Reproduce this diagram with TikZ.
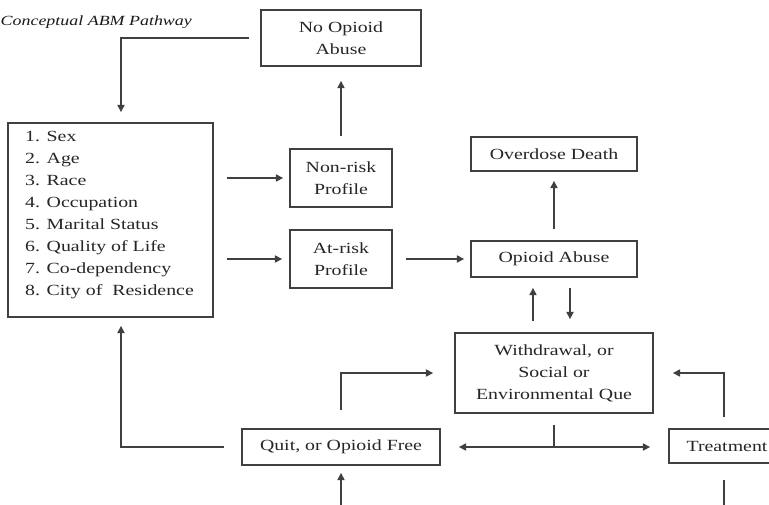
\documentclass[tikz,border=0pt]{standalone}
\usepackage{fontspec}
\setmainfont{Liberation Serif}[FakeStretch=1.28]
\usetikzlibrary{arrows.meta,calc}
\begin{document}
\begin{tikzpicture}[x=1pt,y=-1pt,
  box/.style={draw=black!75, line width=1.4pt, rectangle, inner sep=0pt, text=black!85,
    font=\fontsize{15.5}{22}\selectfont, align=center},
  conn/.style={draw=black!75, line width=1.8pt},
  arr/.style={conn, -{Triangle[length=7.5pt,width=7pt]}},
  darr/.style={conn, {Triangle[length=7.5pt,width=7pt]}-{Triangle[length=7.5pt,width=7pt]}}]
\clip (0,0) rectangle (769,504);
\fill[white] (0,0) rectangle (769,504);
% title
\node[anchor=west, inner sep=0pt, text=black!90, font=\fontsize{14}{16}\selectfont\itshape] (title) at (0.5,22) {Conceptual ABM Pathway};
% boxes
\node[box, minimum width=160pt, minimum height=56pt] (noabuse) at (341,38) {No Opioid\\Abuse};
\node[box, minimum width=205pt, minimum height=194pt] (list) at (110.5,220) {};
\node[anchor=north west, inner sep=0pt, align=left, text=black!85, font=\fontsize{15.5}{22}\selectfont] (items) at (25,131)
  {1. Sex\\2. Age\\3. Race\\4. Occupation\\5. Marital Status\\6. Quality of Life\\7. Co-dependency\\8. City of\ \ Residence};
\node[box, minimum width=102pt, minimum height=58pt] (nonrisk) at (341,178) {Non-risk\\Profile};
\node[box, minimum width=102pt, minimum height=58pt] (atrisk) at (341,259) {At-risk\\Profile};
\node[box, minimum width=166pt, minimum height=34pt] (overdose) at (554,154) {Overdose Death};
\node[box, minimum width=166pt, minimum height=36pt] (abuse) at (554,259) {Opioid Abuse};
\node[box, minimum width=198pt, minimum height=80pt] (withdrawal) at (554,373) {Withdrawal, or\\Social or\\Environmental Que};
\node[box, minimum width=198pt, minimum height=36pt] (quit) at (341,447) {Quit, or Opioid Free};
\node[box, minimum width=116pt, minimum height=34pt] (treatment) at (727,446) {Treatment};
% free ends
\coordinate (bq) at (341,510);
\coordinate (bt) at (724,510);
% connectors
\draw[arr, shorten <=11pt, shorten >=10pt] (noabuse.west) -| ([xshift=10.5pt]list.north);
\draw[arr, shorten <=13pt, shorten >=6pt] (list.east |- nonrisk.west) -- (nonrisk.west);
\draw[arr, shorten <=13pt, shorten >=7pt] (list.east |- atrisk.west) -- (atrisk.west);
\draw[arr, shorten <=12pt, shorten >=14pt] (nonrisk.north) -- (noabuse.south);
\draw[arr, shorten <=13pt, shorten >=6pt] (atrisk.east) -- (abuse.west);
\draw[arr, shorten <=11pt, shorten >=9pt] (abuse.north) -- (overdose.south);
\draw[arr, shorten <=11pt, shorten >=10pt] ([xshift=-21pt]withdrawal.north) -- ([xshift=-21pt]abuse.south);
\draw[arr, shorten <=10pt, shorten >=13pt] ([xshift=16pt]abuse.south) -- ([xshift=16pt]withdrawal.north);
\draw[arr, shorten <=18pt, shorten >=21pt] (quit.north) |- (withdrawal.west);
\draw[arr, shorten <=11pt, shorten >=19pt] ([xshift=-3pt]treatment.north) |- (withdrawal.east);
\draw[conn, shorten <=11pt] (withdrawal.south) -- (withdrawal.south |- quit.east);
\draw[darr, shorten <=18pt, shorten >=18pt] (quit.east) -- (quit.east -| treatment.west);
\draw[arr, shorten <=17pt, shorten >=8pt] (quit.west) -| ([xshift=10.5pt]list.south);
\draw[arr, shorten >=7pt] (bq) -- (quit.south);
\draw[conn, shorten >=16pt] (bt) -- (bt |- treatment.south);
\end{tikzpicture}
\end{document}
